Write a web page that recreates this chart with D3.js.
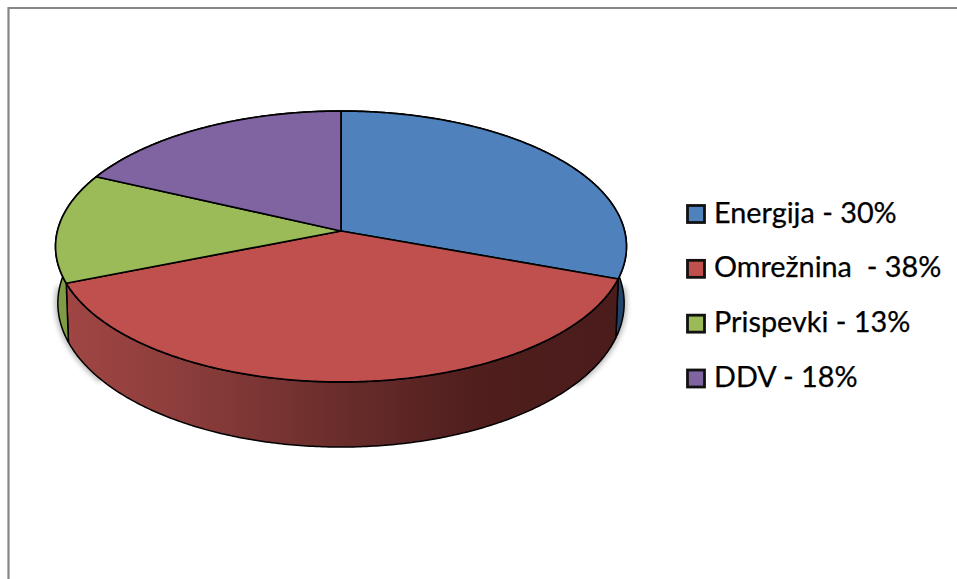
<!DOCTYPE html>
<html><head><meta charset="utf-8">
<script src="https://cdn.jsdelivr.net/npm/d3@7"></script>
<style>html,body{margin:0;padding:0;background:#fff}svg{display:block}text{font-family:Lato,"Open Sans",sans-serif}</style>
</head><body><svg id="c" width="957" height="579"></svg>
<script>
const categories = ["Energija","Omrežnina","Prispevki","DDV"];
const values = [30.6,38.3,13.1,18.0];
const legendLabels = ["Energija - 30%","Omrežnina  - 38%","Prispevki - 13%","DDV - 18%"];
const topColors = ["#4F81BD","#C0504D","#9BBB59","#8064A2"];
const sideColors = ["#234468","#8f3f3c","#7f9c45","#4f3d66"];

(function(){
const svg=d3.select("#c");
const defs=svg.append("defs");
const f=defs.append("filter").attr("id","soft").attr("filterUnits","userSpaceOnUse")
  .attr("x",0).attr("y",200).attr("width",957).attr("height",300);
f.append("feGaussianBlur").attr("stdDeviation",2.4);
const grad=defs.append("linearGradient").attr("id","redWall").attr("gradientUnits","userSpaceOnUse")
  .attr("x1",66).attr("x2",616).attr("y1",0).attr("y2",0);
[[0,"#a04644"],[0.22,"#8b3d3b"],[0.5,"#692d2b"],[0.75,"#4f1e1d"],[1,"#4a1c1b"]]
 .forEach(s=>grad.append("stop").attr("offset",s[0]).attr("stop-color",s[1]));

// chart frame
svg.append("path").attr("d","M8.5,579V8H957").attr("fill","none").attr("stroke","#868686").attr("stroke-width",2.2);

// perspective projection of the pie disc
const k=0.1144;
const sx=d3.scaleLinear().domain([-1,1]).range([341-283.6,341+283.6]);
const syTop=d3.scaleLinear().domain([-1,1]).range([231-133.7,231+133.7]);
const sxB=d3.scaleLinear().domain([-1,1]).range([341-281.3,341+281.3]);
const syB=d3.scaleLinear().domain([-1,1]).range([286.8-141.9,286.8+141.9]);
const proj=(a,xs,ys)=>{const x=Math.sin(a),y=-Math.cos(a),d=1-k*y;return [xs(x/d),ys(y/d)];};
const topPt=a=>proj(a,sx,syTop), botPt=a=>proj(a,sxB,syB);
const line=d3.line();
const samples=(a,b)=>{const n=Math.max(2,Math.ceil((b-a)/0.01));return d3.range(n+1).map(i=>a+(b-a)*i/n);};

const pie=d3.pie().sort(null).value(d=>d)(values);

// soft shadow beside the left and right of the drum
[[0.5,0.72],[1.29,1.5]].forEach(r=>{
  svg.append("path").attr("d",line(samples(Math.PI*r[0],Math.PI*r[1]).map(botPt))).attr("fill","none")
    .attr("stroke","#8a8a8a").attr("stroke-width",6).attr("filter","url(#soft)").attr("opacity",0.6);
});

// walls
const g=svg.append("g");
pie.forEach((p,i)=>{
  const as=samples(p.startAngle,p.endAngle);
  g.append("path").attr("d",line(as.map(topPt).concat(as.slice().reverse().map(botPt)))+"Z")
    .attr("fill",i===1?"url(#redWall)":sideColors[i])
    .attr("stroke","#000").attr("stroke-width",1.5).attr("stroke-linejoin","round");
});
// tops
pie.forEach((p,i)=>{
  const as=samples(p.startAngle,p.endAngle);
  g.append("path").attr("d",line([[sx(0),syTop(0)]].concat(as.map(topPt)))+"Z")
    .attr("fill",topColors[i]).attr("stroke","#000").attr("stroke-width",1.7).attr("stroke-linejoin","round");
});

// legend
const ly=d3.scalePoint().domain(categories).range([214,378.5]);
const leg=svg.append("g").selectAll("g").data(categories).join("g").attr("transform",d=>`translate(0,${ly(d)})`);
leg.append("rect").attr("x",687.5).attr("y",-8.5).attr("width",17).attr("height",17)
  .attr("fill",(d,i)=>topColors[i]).attr("stroke","#111").attr("stroke-width",2.8);
leg.append("text").attr("x",714).attr("y",8.5).attr("font-size",28.8).attr("fill","#000")
  .attr("stroke","#000").attr("stroke-width",0.25)
  .style("white-space","pre").text((d,i)=>legendLabels[i]);
})();
</script></body></html>
